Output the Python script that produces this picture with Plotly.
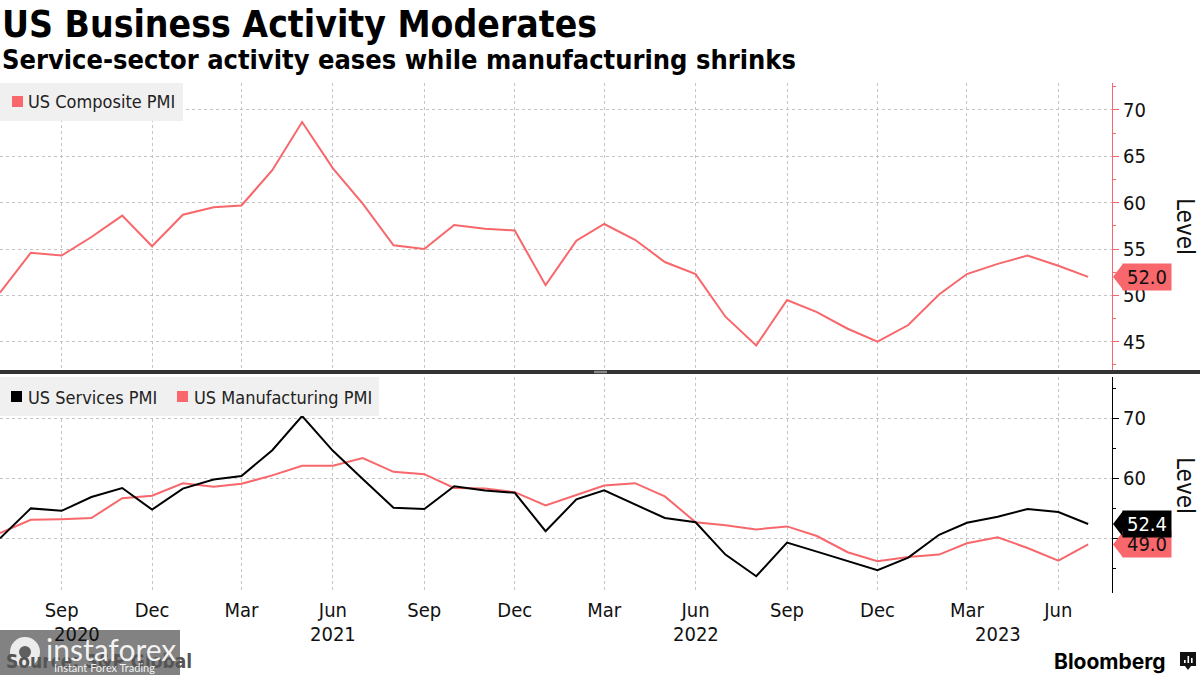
import plotly.graph_objects as go
import pandas as pd

# ---------------- data ----------------
months = pd.date_range("2020-07-01", "2023-07-01", freq="MS")
composite = [50.3, 54.6, 54.3, 56.3, 58.6, 55.3,
             58.7, 59.5, 59.7, 63.5, 68.7, 63.7, 59.9, 55.4, 55.0, 57.6, 57.2, 57.0,
             51.1, 55.9, 57.7, 56.0, 53.6, 52.3, 47.7, 44.6, 49.5, 48.2, 46.4, 45.0,
             46.8, 50.1, 52.3, 53.4, 54.3, 53.2, 52.0]
services = [50.0, 55.0, 54.6, 56.9, 58.4, 54.8,
            58.3, 59.8, 60.4, 64.7, 70.4, 64.6, 59.9, 55.1, 54.9, 58.7, 58.0, 57.6,
            51.2, 56.5, 58.0, 55.6, 53.4, 52.7, 47.3, 43.7, 49.3, 47.8, 46.2, 44.7,
            46.8, 50.6, 52.6, 53.6, 54.9, 54.4, 52.4]
manufacturing = [50.9, 53.1, 53.2, 53.4, 56.7, 57.1,
                 59.2, 58.6, 59.1, 60.5, 62.1, 62.1, 63.4, 61.1, 60.7, 58.4, 58.3, 57.7,
                 55.5, 57.3, 58.8, 59.2, 57.0, 52.7, 52.2, 51.5, 52.0, 50.4, 47.7, 46.2,
                 46.9, 47.3, 49.2, 50.2, 48.4, 46.3, 49.0]

x_tickvals = ["2020-09-01", "2020-12-01", "2021-03-01", "2021-06-01", "2021-09-01",
              "2021-12-01", "2022-03-01", "2022-06-01", "2022-09-01", "2022-12-01",
              "2023-03-01", "2023-06-01"]
x_ticktext = ["Sep", "Dec", "Mar", "Jun", "Sep", "Dec", "Mar", "Jun", "Sep", "Dec", "Mar", "Jun"]
year_labels = ["2020", "2021", "2022", "2023"]
year_positions = ["2020-09-16", "2021-06-01", "2022-06-01", "2023-04-01"]

top_ticks = [45, 50, 55, 60, 65, 70]
bottom_ticks = [50, 60, 70]

title = "US Business Activity Moderates"
subtitle = "Service-sector activity eases while manufacturing shrinks"
source = "Source: S&P Global"

# ---------------- styling ----------------
RED = "#f7676b"
BLACK = "#000000"
GRID = "#c4c4c4"
FONT = "DejaVu Sans Condensed, DejaVu Sans, sans-serif"

W, H = 1200, 675
ML, MR, MT, MB = 0, 88, 83, 82
PW = W - ML - MR
PH = H - MT - MB


def px(x):
    return (x - ML) / PW


def py(y):
    return (H - MB - y) / PH


fig = go.Figure()
fig.add_trace(go.Scatter(x=months, y=composite, mode="lines", line=dict(color=RED, width=2),
                         xaxis="x", yaxis="y", showlegend=False, name="US Composite PMI"))
fig.add_trace(go.Scatter(x=months, y=manufacturing, mode="lines", line=dict(color=RED, width=2),
                         xaxis="x2", yaxis="y2", showlegend=False, name="US Manufacturing PMI"))
fig.add_trace(go.Scatter(x=months, y=services, mode="lines", line=dict(color=BLACK, width=2),
                         xaxis="x2", yaxis="y2", showlegend=False, name="US Services PMI"))

xrange = ["2020-07-01", "2023-07-25"]
common_x = dict(range=xrange, tickvals=x_tickvals, showgrid=True, griddash="dot",
                gridcolor=GRID, gridwidth=1, zeroline=False, ticks="", showline=False)

fig.update_layout(
    width=W, height=H, autosize=False,
    margin=dict(l=ML, r=MR, t=MT, b=MB),
    paper_bgcolor="white", plot_bgcolor="white",
    font=dict(family=FONT, size=20, color="#111111"),
    xaxis=dict(domain=[0, 1], anchor="y", showticklabels=False, **common_x),
    xaxis2=dict(domain=[0, 1], anchor="y2", matches="x", ticktext=x_ticktext,
                showticklabels=True, ticklabelstandoff=3,
                tickfont=dict(size=20, color="#111111"), **common_x),
    yaxis=dict(domain=[py(370), 1], anchor="x", side="right", range=[41.95, 72.91],
               tickvals=top_ticks, showgrid=True, griddash="dot", gridcolor=GRID,
               zeroline=False, showline=True, linecolor=RED, linewidth=1,
               ticks="outside", ticklen=6, tickcolor=RED, tickwidth=1,
               tickfont=dict(size=20, color="#111111"),
               minor=dict(dtick=2.5, tick0=0, ticks="outside", ticklen=3, tickcolor=RED, showgrid=False)),
    yaxis2=dict(domain=[0, py(377)], anchor="x2", side="right", range=[40.9, 76.9],
                tickvals=bottom_ticks, showgrid=True, griddash="dot", gridcolor=GRID,
                zeroline=False, showline=True, linecolor=BLACK, linewidth=1,
                ticks="outside", ticklen=6, tickcolor=BLACK, tickwidth=1,
                tickfont=dict(size=20, color="#111111"),
                minor=dict(dtick=5, tick0=0, ticks="outside", ticklen=3, tickcolor=BLACK, showgrid=False)),
)

shapes = []
annotations = []

# title / subtitle
annotations.append(dict(text="<b>" + title + "</b>", xref="paper", yref="paper", x=px(0), y=py(1),
                        xanchor="left", yanchor="top", showarrow=False,
                        font=dict(family=FONT, size=37, color="#000000")))
annotations.append(dict(text="<b>" + subtitle + "</b>", xref="paper", yref="paper", x=px(0), y=py(42),
                        xanchor="left", yanchor="top", showarrow=False,
                        font=dict(family=FONT, size=27, color="#000000")))

# separator bar between panels
shapes.append(dict(type="rect", xref="paper", yref="paper", x0=px(0), x1=px(W), y0=py(374), y1=py(370),
                   fillcolor="#333333", line=dict(width=0), layer="above"))
for yy in (371.3, 372.7):
    shapes.append(dict(type="line", xref="paper", yref="paper", x0=px(594), x1=px(607), y0=py(yy), y1=py(yy),
                       line=dict(color="#9a9a9a", width=1), layer="above"))

# legends (manual)
shapes.append(dict(type="rect", xref="paper", yref="paper", x0=px(0), x1=px(183), y0=py(121), y1=py(83),
                   fillcolor="#f0f0f0", line=dict(width=0), layer="above"))
shapes.append(dict(type="rect", xref="paper", yref="paper", x0=px(12), x1=px(23), y0=py(107), y1=py(96),
                   fillcolor=RED, line=dict(width=0), layer="above"))
annotations.append(dict(text="US Composite PMI", xref="paper", yref="paper", x=px(26), y=py(102),
                        xanchor="left", yanchor="middle", showarrow=False,
                        font=dict(family=FONT, size=18, color="#222222")))

shapes.append(dict(type="rect", xref="paper", yref="paper", x0=px(0), x1=px(379), y0=py(416), y1=py(377),
                   fillcolor="#f0f0f0", line=dict(width=0), layer="above"))
shapes.append(dict(type="rect", xref="paper", yref="paper", x0=px(11), x1=px(22), y0=py(402), y1=py(391),
                   fillcolor=BLACK, line=dict(width=0), layer="above"))
annotations.append(dict(text="US Services PMI", xref="paper", yref="paper", x=px(26), y=py(397),
                        xanchor="left", yanchor="middle", showarrow=False,
                        font=dict(family=FONT, size=18, color="#222222")))
shapes.append(dict(type="rect", xref="paper", yref="paper", x0=px(177), x1=px(188), y0=py(402), y1=py(391),
                   fillcolor=RED, line=dict(width=0), layer="above"))
annotations.append(dict(text="US Manufacturing PMI", xref="paper", yref="paper", x=px(192), y=py(397),
                        xanchor="left", yanchor="middle", showarrow=False,
                        font=dict(family=FONT, size=18, color="#222222")))

# axis titles "Level"
for yy in (226, 485):
    annotations.append(dict(text="Level", xref="paper", yref="paper", x=px(1185), y=py(yy),
                            xanchor="center", yanchor="middle", textangle=90, showarrow=False,
                            font=dict(family=FONT, size=24, color="#111111")))

# last-value labels
labels = [("y", composite[-1], RED, "#111111"),
          ("y2", manufacturing[-1], RED, "#111111"),
          ("y2", services[-1], BLACK, "#ffffff")]
for yref, val, bg, fg in labels:
    shapes.append(dict(type="path", xref="paper", yref=yref, xsizemode="pixel", ysizemode="pixel",
                       xanchor=1, yanchor=val, path="M 1 0 L 11 13 L 11 -13 Z",
                       fillcolor=bg, line=dict(width=0), layer="above"))
    annotations.append(dict(text="%.1f" % val, xref="paper", yref=yref, x=1, y=val,
                            xanchor="left", yanchor="middle", xshift=10, showarrow=False,
                            width=48, height=26, borderpad=0, bgcolor=bg, align="center",
                            font=dict(family=FONT, size=20, color=fg)))

# year labels
for lab, pos in zip(year_labels, year_positions):
    annotations.append(dict(text=lab, xref="x2", yref="paper", x=pos, y=py(634),
                            xanchor="center", yanchor="middle", showarrow=False,
                            font=dict(family=FONT, size=20, color="#111111")))

# source
annotations.append(dict(text="<b>" + source + "</b>", xref="paper", yref="paper", x=px(4), y=py(661),
                        xanchor="left", yanchor="middle", showarrow=False,
                        font=dict(family=FONT, size=19, color="#555555")))

# watermark overlay
shapes.append(dict(type="rect", xref="paper", yref="paper", x0=px(0), x1=px(180), y0=py(675), y1=py(630),
                   fillcolor="rgba(95,95,95,0.78)", line=dict(width=0), layer="above"))
shapes.append(dict(type="circle", xref="paper", yref="paper", x0=px(10), x1=px(40), y0=py(667), y1=py(637),
                   fillcolor="rgba(255,255,255,0.85)", line=dict(width=0), layer="above"))
shapes.append(dict(type="circle", xref="paper", yref="paper", x0=px(19), x1=px(31), y0=py(658), y1=py(646),
                   fillcolor="rgba(95,95,95,1)", line=dict(width=0), layer="above"))
annotations.append(dict(text="instaforex", xref="paper", yref="paper", x=px(44), y=py(649),
                        xanchor="left", yanchor="middle", showarrow=False,
                        font=dict(family="Lato, DejaVu Sans", size=30, color="rgba(255,255,255,0.92)")))
annotations.append(dict(text="Instant Forex Trading", xref="paper", yref="paper", x=px(52), y=py(667),
                        xanchor="left", yanchor="middle", showarrow=False,
                        font=dict(family="Lato, DejaVu Sans", size=11, color="rgba(255,255,255,0.92)")))

# Bloomberg
annotations.append(dict(text="<b>Bloomberg</b>", xref="paper", yref="paper", x=px(1168), y=py(661),
                        xanchor="right", yanchor="middle", showarrow=False,
                        font=dict(family="Inter, DejaVu Sans", size=21, color="#000000")))
shapes.append(dict(type="path", xref="paper", yref="paper",
                   path="M %f %f L %f %f L %f %f L %f %f L %f %f L %f %f L %f %f Z" % (
                       px(1180), py(652), px(1196), py(652), px(1196), py(666), px(1191), py(666),
                       px(1188), py(670), px(1185), py(666), px(1180), py(666)),
                   fillcolor="#111111", line=dict(width=0), layer="above"))
for bx, btop in ((1184, 660), (1187.5, 656), (1191, 658)):
    shapes.append(dict(type="rect", xref="paper", yref="paper", x0=px(bx), x1=px(bx + 1.6),
                       y0=py(663), y1=py(btop), fillcolor="white", line=dict(width=0), layer="above"))

fig.update_layout(shapes=shapes, annotations=annotations)
fig.write_html("out.html", config={"displayModeBar": False},
               post_script="document.body.style.margin='0px';")
